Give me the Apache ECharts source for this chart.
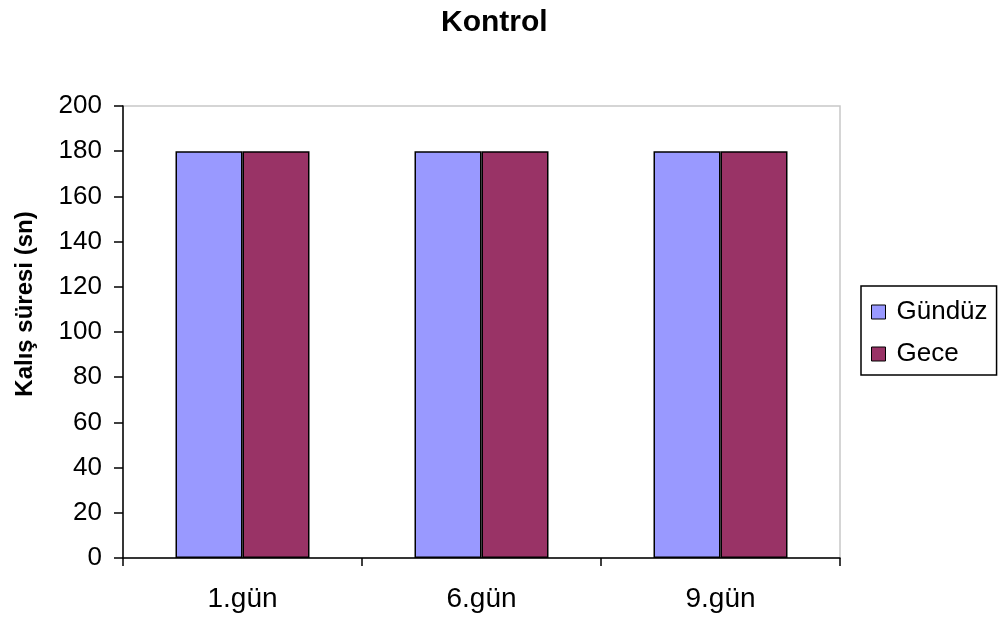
<!DOCTYPE html>
<html>
<head>
<meta charset="utf-8">
<script src="https://cdn.jsdelivr.net/npm/echarts@6/dist/echarts.min.js"></script>
<style>html,body{margin:0;padding:0;background:#fff}#c{width:1003px;height:619px}</style>
</head>
<body>
<div id="c"></div>
<script>
const categories = ['1.gün', '6.gün', '9.gün'];
const gunduz = [180, 180, 180];
const gece = [180, 180, 180];
const yTicks = [0, 20, 40, 60, 80, 100, 120, 140, 160, 180, 200];

const chart = echarts.init(document.getElementById('c'), null, {renderer: 'canvas'});
const font = '"Liberation Sans", Arial, sans-serif';
chart.setOption({
  animation: false,
  backgroundColor: '#fff',
  title: {
    text: 'Kontrol', left: 436, top: 3,
    textStyle: {fontFamily: font, fontSize: 30, fontWeight: 'bold', color: '#000'}
  },
  legend: {
    orient: 'vertical', left: 861, top: 286,
    padding: [13, 9, 8, 10],
    itemGap: 16,
    itemWidth: 14, itemHeight: 14,
    icon: 'rect',
    borderColor: '#000', borderWidth: 1.5,
    itemStyle: {borderColor: '#000', borderWidth: 1},
    textStyle: {fontFamily: font, fontSize: 26, lineHeight: 26, color: '#000', padding: [0, 0, 0, 6]},
    data: ['Gündüz', 'Gece']
  },
  grid: {
    left: 123, top: 106, right: 163, bottom: 61,
    show: true, borderColor: '#c8c8c8', borderWidth: 1.5, backgroundColor: '#fff'
  },
  xAxis: {
    type: 'category', data: categories,
    axisLine: {lineStyle: {color: '#000', width: 1.5}},
    axisTick: {show: true, length: 8, inside: false, alignWithLabel: false, lineStyle: {color: '#000', width: 1.5}},
    axisLabel: {fontFamily: font, fontSize: 28, color: '#000', margin: 27}
  },
  yAxis: {
    type: 'value', min: 0, max: 200, interval: 20,
    name: 'Kalış süresi (sn)', nameLocation: 'middle', nameGap: 86,
    nameTextStyle: {fontFamily: font, fontSize: 24, fontWeight: 'bold', color: '#000', padding: [0, 0, 0, 56]},
    axisLine: {show: true, lineStyle: {color: '#000', width: 1.5}},
    axisTick: {show: true, length: 9, lineStyle: {color: '#000', width: 1.5}},
    splitLine: {show: false},
    axisLabel: {
      fontFamily: font, fontSize: 26, color: '#000', margin: 21,
      formatter: v => yTicks.includes(v) ? String(v) : ''
    }
  },
  series: [
    {
      name: 'Gündüz', type: 'bar', data: gunduz, barWidth: 67, barGap: '0%',
      itemStyle: {color: '#9999FF', borderColor: '#000', borderWidth: 1.5}
    },
    {
      name: 'Gece', type: 'bar', data: gece, barWidth: 67, barGap: '0%',
      itemStyle: {color: '#993366', borderColor: '#000', borderWidth: 1.5}
    }
  ]
});
</script>
</body>
</html>
